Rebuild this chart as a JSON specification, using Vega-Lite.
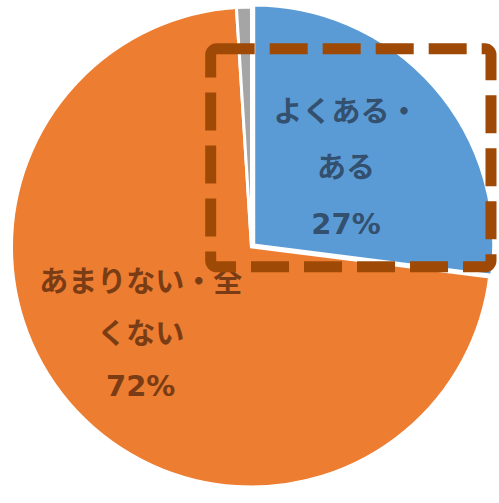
{
  "$schema": "https://vega.github.io/schema/vega-lite/v6.json",
  "width": 499,
  "height": 503,
  "autosize": {"type": "fit", "contains": "padding"},
  "padding": 0,
  "background": "white",
  "view": {"stroke": null},
  "config": {"font": "'DejaVu Sans', 'Noto Sans CJK JP'"},
  "data": {
    "values": [
      {"cat": "よくある・ある", "value": 27, "label": "よくある・\nある\n27%", "ord": 1},
      {"cat": "あまりない・全くない", "value": 72, "label": "あまりない・全\nくない\n72%", "ord": 2},
      {"cat": "無回答", "value": 1, "label": "", "ord": 3}
    ]
  },
  "encoding": {
    "x": {"datum": 0, "type": "quantitative", "scale": {"domain": [-1.0542, 1.025], "zero": false, "nice": false}, "axis": null},
    "y": {"datum": 0, "type": "quantitative", "scale": {"domain": [-1.0708, 1.025], "zero": false, "nice": false}, "axis": null}
  },
  "layer": [
    {
      "mark": {"type": "arc", "outerRadius": 240, "stroke": "white", "strokeWidth": 3},
      "encoding": {
        "theta": {"field": "value", "type": "quantitative", "stack": "zero"},
        "order": {"field": "ord", "type": "quantitative"},
        "color": {"field": "cat", "type": "nominal", "scale": {"domain": ["よくある・ある", "あまりない・全くない", "無回答"], "range": ["#5B9BD5", "#ED7D31", "#A5A5A5"]}, "legend": null},
        "opacity": {"condition": {"test": "datum.cat === 'よくある・ある'", "value": 0}, "value": 1}
      }
    },
    {
      "mark": {"type": "arc", "outerRadius": 240, "stroke": "white", "strokeWidth": 3},
      "encoding": {
        "x": {"datum": 0.0094, "type": "quantitative"},
        "y": {"datum": 0.0083, "type": "quantitative"},
        "theta": {"field": "value", "type": "quantitative", "stack": "zero"},
        "order": {"field": "ord", "type": "quantitative"},
        "color": {"field": "cat", "type": "nominal", "legend": null},
        "opacity": {"condition": {"test": "datum.cat === 'よくある・ある'", "value": 1}, "value": 0}
      }
    },
    {
      "mark": {"type": "text", "fontSize": 29, "lineBreak": "\n", "lineHeight": 56, "align": "center", "baseline": "middle", "fontWeight": "bold", "radius": 122, "dx": 3, "dy": -53, "color": "#33506f"},
      "encoding": {
        "theta": {"field": "value", "type": "quantitative", "stack": "zero"},
        "order": {"field": "ord", "type": "quantitative"},
        "text": {"field": "label", "type": "nominal"},
        "opacity": {"condition": {"test": "datum.cat === 'よくある・ある'", "value": 1}, "value": 0}
      }
    },
    {
      "mark": {"type": "text", "fontSize": 29, "lineBreak": "\n", "lineHeight": 52, "align": "center", "baseline": "middle", "fontWeight": "bold", "radius": 141, "dx": -8, "dy": -61, "color": "#7a3c14"},
      "encoding": {
        "theta": {"field": "value", "type": "quantitative", "stack": "zero"},
        "order": {"field": "ord", "type": "quantitative"},
        "text": {"field": "label", "type": "nominal"},
        "opacity": {"condition": {"test": "datum.cat === 'あまりない・全くない'", "value": 1}, "value": 0}
      }
    },
    {
      "data": {"values": [{}]},
      "mark": {"type": "rect", "fill": "white", "fillOpacity": 0, "stroke": "#9E4A06", "strokeWidth": 11, "strokeDash": [38, 15], "cornerRadius": 6},
      "encoding": {
        "x": {"datum": -0.171, "type": "quantitative"},
        "x2": {"datum": 1.004},
        "y": {"datum": 0.829, "type": "quantitative"},
        "y2": {"datum": -0.083}
      }
    }
  ]
}
